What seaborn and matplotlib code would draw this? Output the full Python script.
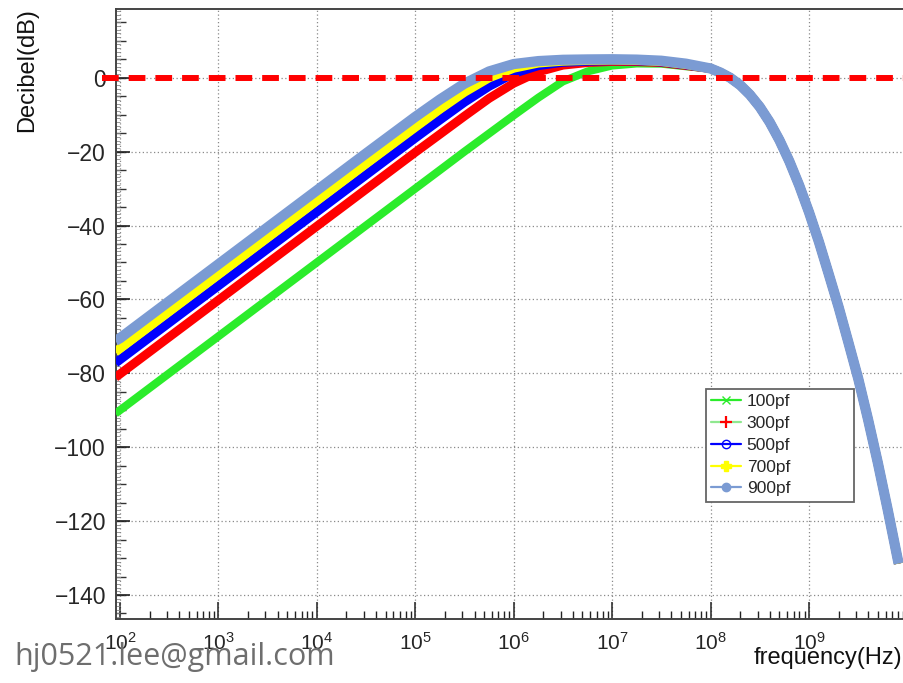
import numpy as np
import pandas as pd
import matplotlib
matplotlib.use("Agg")
import matplotlib.pyplot as plt
import seaborn as sns
from matplotlib.lines import Line2D
from matplotlib.ticker import FixedLocator, FixedFormatter, LogLocator, MultipleLocator, NullFormatter

# ---------------- data ----------------
low_freq_hz = [90, 100, 316, 1000, 3160, 1e4, 3.16e4, 1e5, 1.78e5, 3.16e5, 5.62e5,
               1e6, 1.78e6, 3.16e6, 5.62e6, 1e7, 1.78e7, 3.16e7, 5.62e7]

# common high-frequency roll-off (from 1e8 Hz on, all curves overlap)
tail_freq_hz = [1e8, 1.26e8, 1.58e8, 2.0e8, 2.51e8, 3.16e8, 3.98e8, 5.01e8, 6.31e8,
                7.94e8, 1e9, 1.26e9, 1.58e9, 2.0e9, 2.51e9, 3.16e9, 3.98e9, 5.01e9,
                6.31e9, 8.13e9]
tail_db = [2.5, 1.4, 0.0, -2.0, -4.6, -7.9, -12.0, -16.9, -22.6,
           -29.1, -36.4, -44.4, -53.0, -62.1, -71.6, -81.4, -92.5, -104.3,
           -117.0, -131.5]

db_100pf = [-90.9, -90.0, -80.0, -70.0, -60.0, -50.0, -40.0, -30.0, -25.0, -20.0, -15.1,
            -10.2, -5.4, -1.0, 1.7, 3.3, 3.85, 3.8, 3.1]
db_300pf = [-81.1, -80.2, -70.2, -60.2, -50.2, -40.2, -30.2, -20.2, -15.3, -10.4, -5.6,
            -1.5, 1.6, 3.4, 4.1, 4.4, 4.35, 4.1, 3.3]
db_500pf = [-77.2, -76.3, -66.3, -56.3, -46.3, -36.3, -26.3, -16.3, -11.4, -6.6, -2.3,
            1.2, 3.3, 4.2, 4.5, 4.65, 4.6, 4.3, 3.5]
db_700pf = [-74.2, -73.3, -63.3, -53.3, -43.3, -33.3, -23.3, -13.4, -8.5, -3.9, 0.0,
            2.6, 4.0, 4.5, 4.7, 4.8, 4.7, 4.4, 3.6]
db_900pf = [-71.2, -70.5, -60.5, -50.5, -40.5, -30.5, -20.5, -10.6, -5.9, -1.6, 1.7,
            3.7, 4.5, 4.85, 4.95, 5.0, 4.9, 4.6, 3.8]

series_names = ["100pf", "300pf", "500pf", "700pf", "900pf"]
series_low = [db_100pf, db_300pf, db_500pf, db_700pf, db_900pf]

x_ticks = [1e2, 1e3, 1e4, 1e5, 1e6, 1e7, 1e8, 1e9]
x_tick_labels = [r"$10^{2}$", r"$10^{3}$", r"$10^{4}$", r"$10^{5}$",
                 r"$10^{6}$", r"$10^{7}$", r"$10^{8}$", r"$10^{9}$"]
y_ticks = [0, -20, -40, -60, -80, -100, -120, -140]
y_tick_labels = ["0", "\u221220", "\u221240", "\u221260", "\u221280",
                 "\u2212100", "\u2212120", "\u2212140"]
ref_level_db = 0

# ---------------- styling ----------------
colors = {"100pf": "#2bec2b", "300pf": "#ff0000", "500pf": "#0000ff",
          "700pf": "#ffff00", "900pf": "#7b9bd3"}
widths = {"100pf": 5.8, "300pf": 6.4, "500pf": 6.6, "700pf": 6.6, "900pf": 7.4}

sns.set_style("white")
plt.rcParams["font.family"] = ["Liberation Sans", "DejaVu Sans"]
plt.rcParams["mathtext.fontset"] = "custom"
plt.rcParams["mathtext.rm"] = "Liberation Sans"
plt.rcParams["mathtext.it"] = "Liberation Sans:italic"
plt.rcParams["mathtext.bf"] = "Liberation Sans:bold"

all_freq = list(low_freq_hz) + list(tail_freq_hz)
rows = []
for name, low in zip(series_names, series_low):
    vals = list(low) + list(tail_db)
    for f, v in zip(all_freq, vals):
        rows.append({"freq": f, "dB": v, "cap": name})
df = pd.DataFrame(rows)

fig = plt.figure(figsize=(9.04, 6.83), dpi=100)
ax = fig.add_axes([115.7 / 904, 64 / 683, (904 - 115.7) / 904, 610 / 683])

for name in series_names:
    sub = df[df["cap"] == name]
    sns.lineplot(data=sub, x="freq", y="dB", ax=ax, color=colors[name],
                 linewidth=widths[name], legend=False, estimator=None,
                 sort=False, solid_capstyle="butt", solid_joinstyle="round", zorder=3)

ax.set_xscale("log")
ax.set_xlim(10 ** 1.957, 10 ** 9.965)
ax.set_ylim(-146.5, 18.6)

# reference line at 0 dB
ax.plot([-0.0178, 1.0], [ref_level_db, ref_level_db], color="#ff0000",
        linewidth=4.3, dashes=(2.8, 1.67), solid_capstyle="butt",
        dash_capstyle="butt", transform=ax.get_yaxis_transform(),
        clip_on=False, zorder=6)

# ticks
ax.xaxis.set_major_locator(FixedLocator(x_ticks))
ax.xaxis.set_major_formatter(FixedFormatter(x_tick_labels))
ax.xaxis.set_minor_locator(LogLocator(base=10, subs=np.arange(2, 10), numticks=100))
ax.xaxis.set_minor_formatter(NullFormatter())
ax.yaxis.set_major_locator(FixedLocator(y_ticks))
ax.yaxis.set_major_formatter(FixedFormatter(y_tick_labels))
ax.yaxis.set_minor_locator(MultipleLocator(1))

ax.tick_params(axis="x", which="major", direction="in", length=12, width=1.1,
               color="#222222", pad=9, labelsize=15, bottom=True, top=False)
ax.tick_params(axis="x", which="minor", direction="in", length=6, width=1.0,
               color="#222222", bottom=True, top=False)
ax.tick_params(axis="y", which="major", direction="in", length=10, width=1.2,
               color="#222222", pad=7, labelsize=16.5, left=True, right=False)
ax.tick_params(axis="y", which="minor", direction="in", length=3, width=0.6,
               color="#888888", left=True, right=False)

sec = ax.secondary_yaxis("left")
sec.set_yticks(np.arange(-145, 20, 5))
sec.tick_params(axis="y", direction="in", length=7, width=1.0, color="#333333",
                labelleft=False)
sec.yaxis.set_minor_locator(FixedLocator([]))
sec.spines["left"].set_visible(False)

ax.grid(True, which="major", color="#8a8a8a", linestyle=(0, (1, 2)), linewidth=0.9)
ax.set_axisbelow(True)

for side in ["left", "bottom", "top"]:
    ax.spines[side].set_color("#444444")
    ax.spines[side].set_linewidth(1.4)
ax.spines["right"].set_visible(False)
ax.set_xlabel("")
ax.set_ylabel("")

# legend
handles = [
    Line2D([], [], color="#2bec2b", lw=1.6, marker="x", markersize=6, markeredgecolor="#2bec2b"),
    Line2D([], [], color="#8fe88f", lw=1.6, marker="+", markersize=8, markeredgecolor="#ff0000", markeredgewidth=1.6),
    Line2D([], [], color="#0000ff", lw=1.6, marker="o", markersize=6, markerfacecolor="none", markeredgecolor="#0000ff"),
    Line2D([], [], color="#ffff00", lw=1.6, marker="P", markersize=7, markerfacecolor="#ffff00", markeredgecolor="#ffff00"),
    Line2D([], [], color="#7b9bd3", lw=1.6, marker="o", markersize=6, markerfacecolor="#7b9bd3", markeredgecolor="#7b9bd3"),
]
leg = ax.legend(handles, series_names, loc="upper left",
                bbox_to_anchor=(0.7487, 0.0, 0.1878, 0.377), mode="expand",
                borderaxespad=0, fontsize=12.5, handlelength=1.7,
                handletextpad=0.35, labelspacing=0.38, borderpad=0.3,
                frameon=True, fancybox=False, framealpha=1.0)
leg.get_frame().set_edgecolor("#666666")
leg.get_frame().set_linewidth(1.3)
leg.set_zorder(7)

# axis titles
fig.text(27 / 904, 1 - 8 / 683, "Decibel(dB)", rotation=90, ha="center", va="top",
         fontsize=17, color="#111111")
fig.text(902 / 904, 1 - 664 / 683, "frequency(Hz)", ha="right", va="baseline",
         fontsize=17, color="#111111")

# watermark
fig.text(14 / 904, 1 - 665 / 683, "hj0521.lee@gmail.com", ha="left", va="baseline",
         fontsize=22, color="#6e6e6e", family=["Open Sans", "DejaVu Sans"])

fig.savefig("out.png", dpi=100)
